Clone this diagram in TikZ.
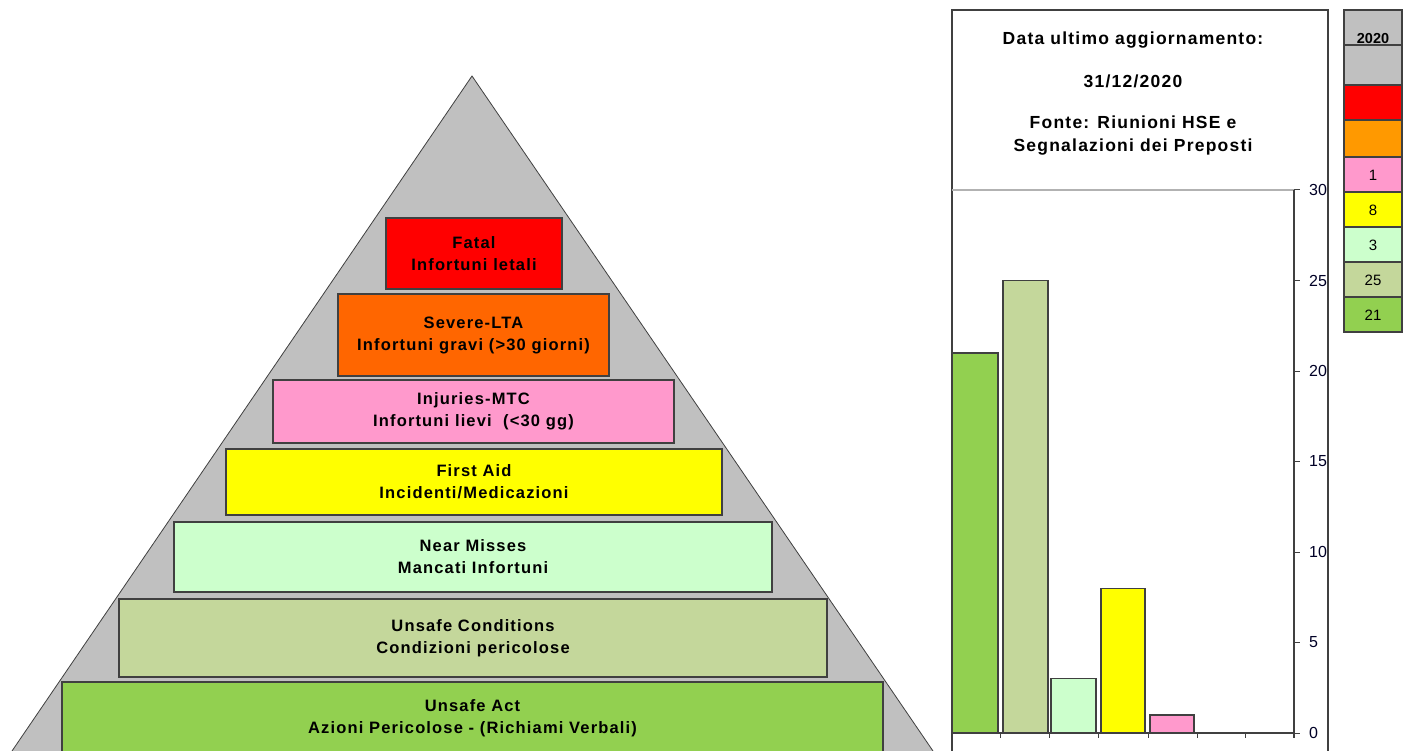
\documentclass[tikz,border=0pt]{standalone}
\usepackage{fontspec}
\setmainfont{Liberation Sans}
\newfontfamily\widefont[LetterSpace=7]{Liberation Sans}
\definecolor{pgray}{HTML}{C0C0C0}
\definecolor{edge}{HTML}{404040}
\definecolor{cfatal}{HTML}{FF0000}
\definecolor{csevere}{HTML}{FF6600}
\definecolor{corange}{HTML}{FF9900}
\definecolor{cpink}{HTML}{FF99CC}
\definecolor{cyellow}{HTML}{FFFF00}
\definecolor{cnear}{HTML}{CCFFCC}
\definecolor{ccond}{HTML}{C4D79B}
\definecolor{cact}{HTML}{92D050}
\begin{document}
\begin{tikzpicture}[x=1pt,y=-1pt,
  tier/.style={draw=edge,line width=1.2pt,inner sep=0pt,align=center,
    font=\widefont\bfseries\fontsize{16.5}{22}\selectfont},
  bar/.style={draw=edge,line width=1.2pt},
  leg/.style={draw=edge,line width=1.2pt},
  legtxt/.style={font=\fontsize{15}{17}\selectfont,inner sep=0pt},
  axlbl/.style={font=\fontsize{16}{18}\selectfont,inner sep=0pt,text=black!85!blue},
  info/.style={font=\widefont\bfseries\fontsize{17.5}{23}\selectfont,inner sep=0pt,align=center}]
\useasboundingbox (0,0) rectangle (1411,751);
\clip (0,0) rectangle (1411,751);
\fill[white] (0,0) rectangle (1411,751);
% pyramid
\coordinate (apex) at (472,76);
\coordinate (bl) at (12,751);
\coordinate (br) at (933,751);
\draw[fill=pgray,draw=edge,line width=0.8pt] (bl) -- (apex) -- (br);
\node[tier,fill=cfatal,minimum width=176pt,minimum height=71pt] (fatal) at (474,253.5) {Fatal\\Infortuni letali};
\node[tier,fill=csevere,minimum width=271pt,minimum height=82pt] (severe) at (473.5,335) {Severe-LTA\\Infortuni gravi (>30 giorni)};
\node[tier,fill=cpink,minimum width=401pt,minimum height=63pt] (injury) at (473.5,411.5) {Injuries-MTC\\Infortuni lievi\ \ (<30 gg)};
\node[tier,fill=cyellow,minimum width=496pt,minimum height=66pt] (firstaid) at (474,482) {First Aid\\Incidenti/Medicazioni};
\node[tier,fill=cnear,minimum width=598pt,minimum height=70pt] (near) at (473,557) {Near Misses\\Mancati Infortuni};
\node[tier,fill=ccond,minimum width=708pt,minimum height=78pt] (cond) at (473,638) {Unsafe Conditions\\Condizioni pericolose};
\node[tier,fill=cact,minimum width=821pt,minimum height=72pt] (act) at (472.5,718) {Unsafe Act\\Azioni Pericolose - (Richiami Verbali)};
% right panel
\draw[edge,line width=1.2pt] (952,760) -- (952,10) -- (1328,10) -- (1328,760);
\node[info] (t1) at (1133,40) {Data ultimo aggiornamento:};
\node[info] (t2) at (1133,81) {31/12/2020};
\node[info] (t3) at (1133,135.5) {Fonte: Riunioni HSE e\\Segnalazioni dei Preposti};
\draw[black!30,line width=1.5pt] (952,190) -- (1294,190);
% bars
\draw[bar,fill=cact] (952,733) rectangle (998,352.9);
\draw[bar,fill=ccond] (1003,733) rectangle (1048,280.5);
\draw[bar,fill=cnear] (1051,733) rectangle (1096,678.7);
\draw[bar,fill=cyellow] (1101,733) rectangle (1145,588.2);
\draw[bar,fill=cpink] (1150,733) rectangle (1194,714.9);
% axes
\draw[edge,line width=1.2pt] (952,733) -- (1294,733);
\draw[edge,line width=1.2pt] (1294,190) -- (1294,738);
\foreach \xx in {1000,1049,1098,1148,1197,1245}
  \draw[edge,line width=1pt] (\xx,733) -- (\xx,738);
\foreach \v/\yy in {30/190,25/280.5,20/371,15/461.5,10/552,5/642.5,0/733}{
  \draw[edge,line width=1pt] (1294,\yy) -- (1300,\yy);
  \node[axlbl,anchor=west] (ax\v) at (1309,\yy) {\v};
}
% legend
\draw[leg,fill=pgray] (1344,10) rectangle (1402,45);
\draw[leg,fill=pgray] (1344,45) rectangle (1402,85);
\draw[leg,fill=cfatal] (1344,85) rectangle (1402,120);
\draw[leg,fill=corange] (1344,120) rectangle (1402,157);
\draw[leg,fill=cpink] (1344,157) rectangle (1402,192);
\draw[leg,fill=cyellow] (1344,192) rectangle (1402,227);
\draw[leg,fill=cnear] (1344,227) rectangle (1402,262);
\draw[leg,fill=ccond] (1344,262) rectangle (1402,297);
\draw[leg,fill=cact] (1344,297) rectangle (1402,332);
\node[legtxt,font=\bfseries\fontsize{14.5}{16}\selectfont] (l0) at (1373,39) {2020};
\node[legtxt] (l1) at (1373,175) {1};
\node[legtxt] (l2) at (1373,210) {8};
\node[legtxt] (l3) at (1373,245) {3};
\node[legtxt] (l4) at (1373,280) {25};
\node[legtxt] (l5) at (1373,315) {21};
\end{tikzpicture}
\end{document}
